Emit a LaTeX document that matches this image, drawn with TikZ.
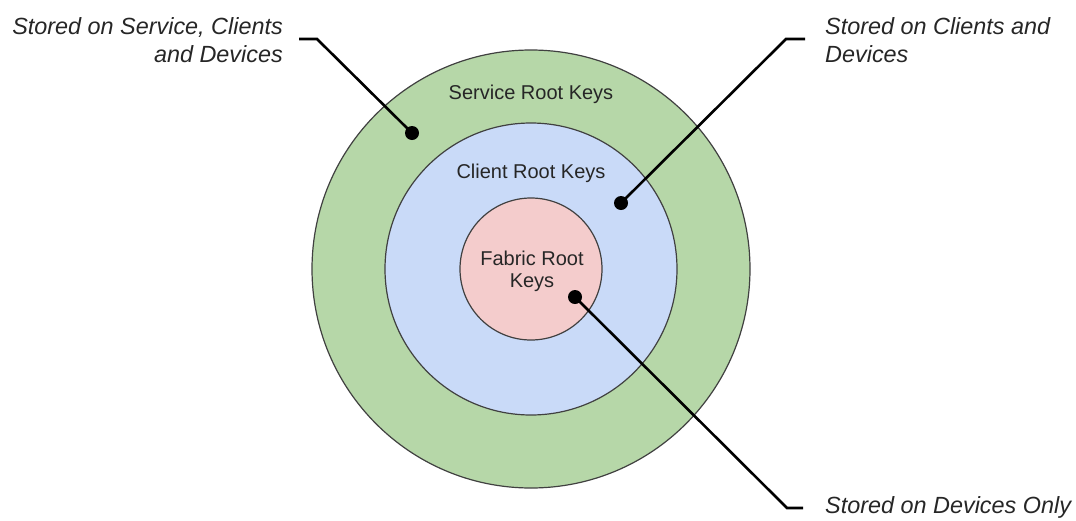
\documentclass[tikz,border=0pt]{standalone}
\usepackage{fontspec}
\setmainfont{Liberation Sans}
\usetikzlibrary{calc}

\definecolor{servicegreen}{HTML}{B6D7A8}
\definecolor{clientblue}{HTML}{C9DAF8}
\definecolor{fabricpink}{HTML}{F4CCCC}
\definecolor{ringline}{HTML}{404040}
\definecolor{labeltext}{HTML}{262626}

\begin{document}
\begin{tikzpicture}[x=1pt, y=-1pt,
    ring/.style={draw=ringline, line width=1.2pt},
    keylabel/.style={inner sep=0pt, text=labeltext, font=\fontsize{20}{22}\selectfont, align=center},
    storelabel/.style={inner sep=0pt, text=labeltext, font=\itshape\fontsize{23.4}{28}\selectfont},
    leader/.style={line width=2.6pt, line join=miter},
    pin/.style={fill=black}
]
    \useasboundingbox (0,0) rectangle (1076,520);

    % 1. Mittelpunkt der Ringe
    \coordinate (O) at (531,269);

    % 2. Ringe (aussen nach innen)
    \filldraw[ring, fill=servicegreen] (O) circle (219);
    \filldraw[ring, fill=clientblue] (O) circle (146);
    \filldraw[ring, fill=fabricpink] (O) circle (71);

    % Beschriftung der Ringe
    \node[keylabel] (service) at (531,94) {Service Root Keys};
    \node[keylabel] (client) at (531,173) {Client Root Keys};
    \node[keylabel] (fabric) at (532,271) {Fabric Root\\Keys};

    % 3. Markierungspunkte
    \coordinate (dotS) at (412,133);
    \coordinate (dotC) at (621,203);
    \coordinate (dotF) at (575,297);

    % Knickpunkte und Enden der Hinweislinien
    \coordinate (kneeS) at (317,39);
    \coordinate (endS) at (299,39);
    \coordinate (kneeC) at (786,39);
    \coordinate (endC) at (805,39);
    \coordinate (kneeF) at (787,508);
    \coordinate (endF) at (803,508);

    % 4. Hinweislinien
    \draw[leader] (dotS) -- (kneeS) -- (endS);
    \draw[leader] (dotC) -- (kneeC) -- (endC);
    \draw[leader] (dotF) -- (kneeF) -- (endF);

    \fill[pin] (dotS) circle (7);
    \fill[pin] (dotC) circle (7);
    \fill[pin] (dotF) circle (7);

    % 5. Texte zu den Speicherorten
    \node[storelabel, anchor=east, align=right] (storeS) at (283,40) {Stored on Service, Clients\\and Devices};
    \node[storelabel, anchor=west, align=left] (storeC) at (825,40) {Stored on Clients and\\Devices};
    \node[storelabel, anchor=west] (storeF) at (825,507) {Stored on Devices Only};

\end{tikzpicture}
\end{document}
